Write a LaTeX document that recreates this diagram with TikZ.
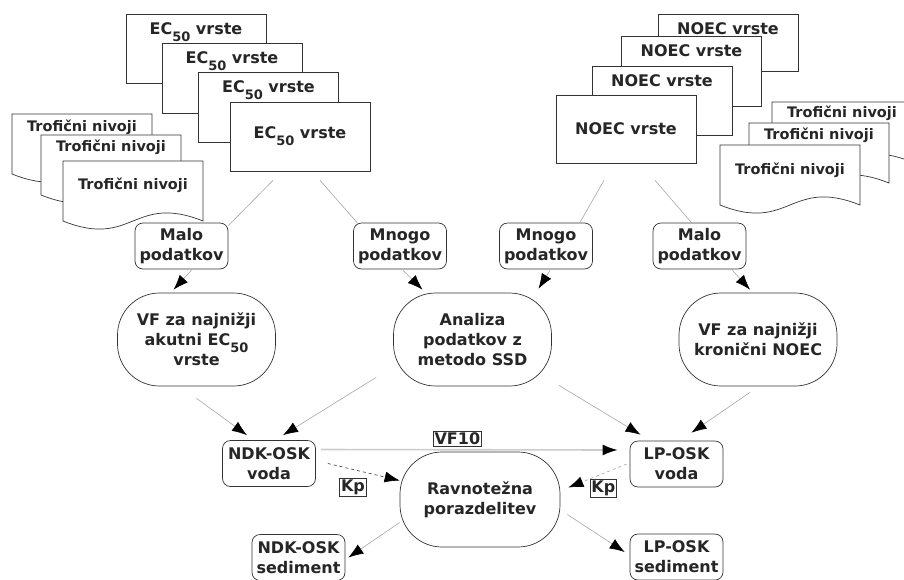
\documentclass[tikz,border=0pt]{standalone}
\usepackage{fontspec}
\setmainfont{DejaVu Sans}
\usetikzlibrary{arrows.meta}

\newcommand{\ecsub}{\raisebox{-7pt}{\fontsize{13pt}{13pt}\selectfont 50}}

\tikzset{
  box/.style={draw=black!80, line width=0.7pt, fill=white, align=center, inner sep=3pt},
  backsheet/.style={box, minimum width=140pt, inner ysep=8pt, text height=12pt, text depth=#1},
  frontsheet/.style={box, minimum width=140pt, minimum height=69pt},
  docline/.style={draw=black!80, line width=0.7pt, fill=white},
  doctext/.style={font=\bfseries\fontsize{14.5pt}{18pt}\selectfont},
  small/.style={box, rounded corners=8pt, minimum width=93pt, minimum height=46pt},
  stadium/.style={box, rounded corners=42pt, minimum width=158pt, minimum height=93pt},
  tag/.style={draw=black!80, solid, line width=0.6pt, inner sep=1.5pt},
  link/.style={gray!70, line width=0.6pt},
  arrow/.style={link, -{Latex[length=15pt,width=11pt,color=black]}}
}

% document with wavy bottom: name, left x, top y, text offset
\newcommand{\trofdoc}[4]{%
  \draw[docline] (#2,#3) -- (#2+140,#3) -- (#2+140,#3+60)
    .. controls (#2+70,#3+32) and (#2+70,#3+88) .. (#2,#3+60) -- cycle;
  \node[doctext] (#1) at (#2+70,#3+#4) {Trofični nivoji};
}

\begin{document}
\begin{tikzpicture}[x=1pt, y=-1pt,
  every node/.style={font=\bfseries\fontsize{16pt}{20pt}\selectfont, text=black!85}]
\useasboundingbox (0,0) rectangle (904,579);

% EC50 stack
\node[backsheet=41pt] (ec1) at (196,48.5) {EC\ecsub{} vrste};
\node[backsheet=42pt] (ec2) at (232,78.5) {EC\ecsub{} vrste};
\node[backsheet=42pt] (ec3) at (268.5,107) {EC\ecsub{} vrste};
\node[frontsheet] (ec4) at (300,136.5) {EC\ecsub{} vrste};

% NOEC stack
\node[backsheet=29pt] (noec1) at (728,42.5) {NOEC vrste};
\node[backsheet=42pt] (noec2) at (691.5,71) {NOEC vrste};
\node[backsheet=41pt] (noec3) at (662,100.5) {NOEC vrste};
\node[frontsheet, minimum height=68pt] (noec4) at (626,129) {NOEC vrste};

% Trophic levels
\trofdoc{tl1}{12}{114}{13}
\trofdoc{tl2}{41}{135}{12}
\trofdoc{tl3}{63}{161}{24}
\trofdoc{tr1}{772}{102}{11}
\trofdoc{tr2}{749}{123}{12}
\trofdoc{tr3}{720}{145}{25}

% Amount of data
\node[small] (malo1) at (181.5,246) {Malo\\podatkov};
\node[small] (mnogo1) at (400,246) {Mnogo\\podatkov};
\node[small] (mnogo2) at (546,246) {Mnogo\\podatkov};
\node[small] (malo2) at (699.5,246) {Malo\\podatkov};

% Methods
\node[stadium] (vfakut) at (196.5,339.5) {VF za najnižji\\akutni EC\ecsub\\vrste};
\node[stadium] (ssd) at (472.5,339.5) {Analiza\\podatkov z\\metodo SSD};
\node[stadium] (vfkron) at (758,339.5) {VF za najnižji\\kronični NOEC};

% Results
\node[small] (ndkvoda) at (269,463.5) {NDK-OSK\\voda};
\node[small] (lpvoda) at (676.5,464) {LP-OSK\\voda};
\node[stadium, minimum width=160pt, minimum height=95pt] (ravn) at (480,499.5) {Ravnotežna\\porazdelitev};
\node[small] (ndksed) at (298.5,557.5) {NDK-OSK\\sediment};
\node[small] (lpsed) at (676.5,557) {LP-OSK\\sediment};

% Lines from the data
\draw[link] ([xshift=-27pt,yshift=-9pt]ec4.south) -- ([yshift=-3pt]malo1.north east);
\draw[link] ([xshift=20pt,yshift=-9pt]ec4.south) -- ([xshift=4pt]mnogo1.north west);
\draw[link] ([xshift=-22pt,yshift=-17pt]noec4.south) -- ([xshift=-13pt]mnogo2.north east);
\draw[link] ([xshift=29pt,yshift=-17pt]noec4.south) -- ([xshift=-8pt]malo2.north);

% Arrows to the methods
\draw[arrow] ([xshift=10pt,yshift=-1pt]malo1.south) -- ([xshift=-23pt,yshift=3pt]vfakut.north);
\draw[arrow] ([xshift=3pt,yshift=-1pt]mnogo1.south) -- ([xshift=-50pt,yshift=3pt]ssd.north);
\draw[arrow] ([xshift=4pt,yshift=-1pt]mnogo2.south) -- ([xshift=66pt,yshift=4pt]ssd.north);
\draw[arrow] ([xshift=33pt,yshift=-1pt]malo2.south) -- ([xshift=-8pt,yshift=3pt]vfkron.north);

% Arrows to the water values
\draw[arrow] ([yshift=-12pt]vfakut.south) -- ([xshift=-22pt,yshift=5pt]ndkvoda.north);
\draw[arrow] ([xshift=-17pt,yshift=9pt]ssd.south west) -- ([xshift=14pt,yshift=5pt]ndkvoda.north);
\draw[arrow] ([xshift=7pt,yshift=1pt]ssd.south east) -- ([xshift=-36pt,yshift=6pt]lpvoda.north);
\draw[arrow] ([xshift=-8pt,yshift=-6pt]vfkron.south) -- ([xshift=15pt,yshift=8pt]lpvoda.north);

% Water to water, and partitioning
\draw[arrow, gray!40, line width=1.6pt] ([xshift=5pt,yshift=14pt]ndkvoda.east)
  -- node[tag, pos=0.46, above=3pt] (vf10) {VF10} ([xshift=-12pt,yshift=14pt]lpvoda.west);
\draw[arrow, black!80, dashed] ([xshift=12pt]ndkvoda.east)
  -- node[tag, pos=0.35, below=9pt] (kp1) {Kp} ([yshift=19pt]ravn.west);
\draw[arrow, dashed] ([xshift=-3pt]lpvoda.west)
  -- node[tag, pos=0.4, below=6pt] (kp2) {Kp} ([xshift=8pt,yshift=12pt]ravn.east);

% To the sediment
\draw[arrow] ([yshift=-23pt]ravn.west) -- ([xshift=3pt]ndksed.east);
\draw[arrow] ([xshift=7pt,yshift=-15pt]ravn.east) -- ([xshift=-5pt,yshift=5pt]lpsed.west);

\end{tikzpicture}
\end{document}
